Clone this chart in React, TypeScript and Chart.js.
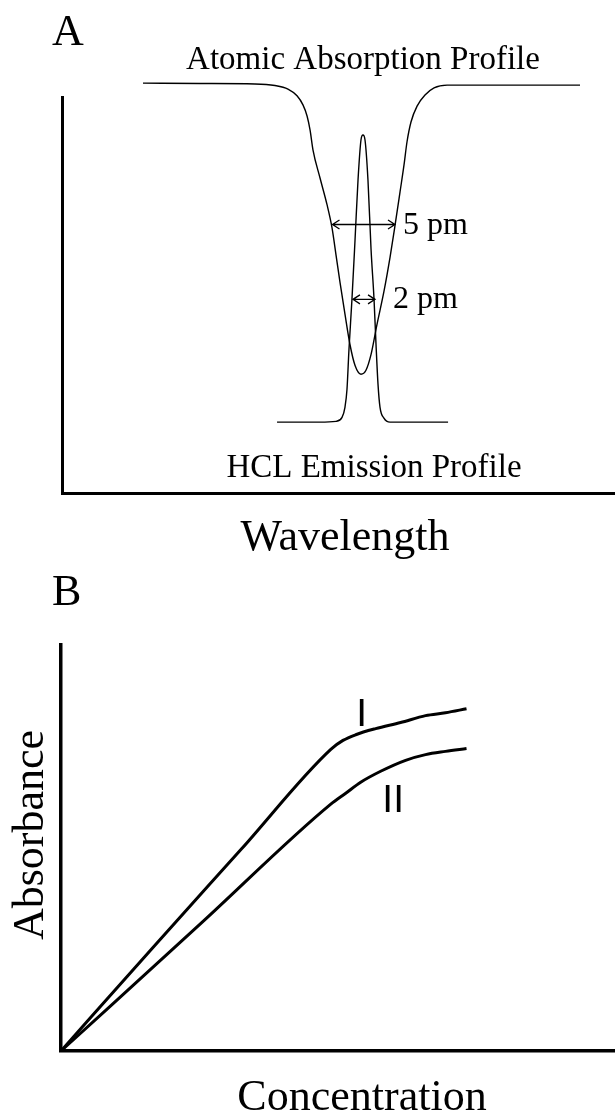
import React, { useEffect, useRef } from "react";
import { Chart, registerables } from "chart.js";

Chart.register(...registerables);

// ---------- Panel A : wavelength offset from line centre (pm) vs relative intensity ----------
const absorptionX = [-17.58, -12.98, -8.55, -6.94, -5.89, -5.16, -4.68, -4.35, -4.11, -3.87, -3.31, -2.74, -2.34, -2.02, -1.69, -1.29, -0.89, -0.48, 0, 0.40, 0.81, 1.29, 1.85, 2.34, 2.74, 3.15, 3.47, 3.71, 4.03, 4.52, 5.16, 5.89, 6.94, 12.82, 17.66];
const absorptionY = [103.5, 103.4, 103.3, 102.9, 102.0, 100.3, 98.0, 95.2, 91.7, 86.6, 79.6, 72.8, 67.0, 60.2, 53.1, 45.1, 37.5, 32.2, 30.0, 31.0, 35.0, 42.6, 50.9, 59.5, 67.5, 76.1, 82.9, 88.7, 93.7, 97.7, 100.5, 102.3, 103.0, 103.0, 103.0];

const emissionX = [-6.77, -3.31, -2.02, -1.53, -1.29, -1.13, -0.97, -0.73, -0.48, -0.24, 0, 0.16, 0.32, 0.56, 0.81, 1.05, 1.21, 1.37, 1.53, 1.85, 2.34, 4.76, 7.02];
const emissionY = [17.9, 17.9, 18.1, 19.1, 21.7, 26.2, 36.3, 48.9, 64.0, 79.1, 89.2, 90.4, 89.2, 79.1, 61.5, 48.9, 37.5, 27.5, 21.7, 18.9, 17.9, 17.9, 17.9];

// widths (pm) marked with double arrows: [start, end, height]
const absorptionWidthArrow = [-2.3, 2.74, 67.8];
const emissionWidthArrow = [-0.65, 1.13, 48.9];
const absorptionWidthLabel = "5 pm";
const emissionWidthLabel = "2 pm";

// ---------- Panel B : absorbance vs concentration ----------
const concI = [0, 1.64, 3.26, 4.87, 5.09, 5.32, 5.68, 6.13, 6.58, 6.94, 7.32];
const absI = [0, 0.252, 0.498, 0.743, 0.765, 0.779, 0.794, 0.809, 0.826, 0.833, 0.843];
const concII = [0, 2.54, 4.87, 5.14, 5.41, 5.77, 6.22, 6.58, 6.94, 7.32];
const absII = [0, 0.316, 0.608, 0.635, 0.662, 0.689, 0.716, 0.730, 0.738, 0.745];

const SERIF = '"Liberation Serif", "Times New Roman", serif';
const SANS = '"Liberation Sans", Arial, sans-serif';

function pts(xs: number[], ys: number[]) {
  return xs.map((x, i) => ({ x, y: ys[i] }));
}

function doubleArrow(ctx: CanvasRenderingContext2D, x1: number, x2: number, y: number) {
  const h = 7;
  const w = 4.5;
  ctx.beginPath();
  ctx.moveTo(x1, y);
  ctx.lineTo(x2, y);
  ctx.moveTo(x1 + h, y - w);
  ctx.lineTo(x1, y);
  ctx.lineTo(x1 + h, y + w);
  ctx.moveTo(x2 - h, y - w);
  ctx.lineTo(x2, y);
  ctx.lineTo(x2 - h, y + w);
  ctx.stroke();
}

const annotA = {
  id: "annotA",
  afterDatasetsDraw(chart: any) {
    const { ctx, scales } = chart;
    const xs = scales.x;
    const ys = scales.y;
    ctx.save();
    ctx.fillStyle = "#000";
    ctx.strokeStyle = "#000";
    ctx.lineWidth = 1.3;
    ctx.textBaseline = "alphabetic";

    ctx.font = `44px ${SERIF}`;
    ctx.textAlign = "left";
    ctx.fillText("A", 52, 45);

    ctx.font = `33px ${SERIF}`;
    ctx.textAlign = "center";
    ctx.fillText("Atomic Absorption Profile", 363, 69);
    ctx.fillText("HCL Emission Profile", 374, 477);

    ctx.font = `44px ${SERIF}`;
    ctx.fillText("Wavelength", 345, 550);

    // width arrows
    const a1 = xs.getPixelForValue(absorptionWidthArrow[0]);
    const a2 = xs.getPixelForValue(absorptionWidthArrow[1]);
    const ay = ys.getPixelForValue(absorptionWidthArrow[2]);
    doubleArrow(ctx, a1, a2, ay);
    const e1 = xs.getPixelForValue(emissionWidthArrow[0]);
    const e2 = xs.getPixelForValue(emissionWidthArrow[1]);
    const ey = ys.getPixelForValue(emissionWidthArrow[2]);
    doubleArrow(ctx, e1, e2, ey);

    ctx.font = `32px ${SERIF}`;
    ctx.textAlign = "left";
    ctx.fillText(absorptionWidthLabel, a2 + 8, ay + 9);
    ctx.fillText(emissionWidthLabel, e2 + 18, ey + 9);
    ctx.restore();
  },
};

const annotB = {
  id: "annotB",
  afterDatasetsDraw(chart: any) {
    const { ctx, scales } = chart;
    const xs = scales.x;
    const ys = scales.y;
    ctx.save();
    ctx.fillStyle = "#000";
    ctx.textBaseline = "alphabetic";

    ctx.font = `44px ${SERIF}`;
    ctx.textAlign = "left";
    ctx.fillText("B", 52, 45);

    ctx.textAlign = "center";
    ctx.fillText("Concentration", 362, 550);

    ctx.save();
    ctx.translate(43, 275);
    ctx.rotate(-Math.PI / 2);
    ctx.fillText("Absorbance", 0, 0);
    ctx.restore();

    // curve labels
    ctx.font = `39px ${SANS}`;
    ctx.textAlign = "left";
    ctx.fillText("I", xs.getPixelForValue(5.33), ys.getPixelForValue(0.80));
    ctx.fillText("II", xs.getPixelForValue(5.8), ys.getPixelForValue(0.589));
    ctx.restore();
  },
};

const axisOpts = (min: number, max: number, width: number) => ({
  type: "linear" as const,
  min,
  max,
  ticks: { display: false },
  grid: { display: false, drawTicks: false, tickLength: 0 },
  border: { display: true, width, color: "#000" },
});

export default function App() {
  const refA = useRef<HTMLCanvasElement>(null);
  const refB = useRef<HTMLCanvasElement>(null);

  useEffect(() => {
    const common = {
      responsive: false,
      animation: false as const,
      devicePixelRatio: 1,
      events: [] as any[],
      plugins: { legend: { display: false }, tooltip: { enabled: false }, title: { display: false } },
    };

    const chartA = new Chart(refA.current!, {
      type: "line",
      data: {
        datasets: [
          {
            label: "Atomic Absorption Profile",
            data: pts(absorptionX, absorptionY),
            borderColor: "#000",
            borderWidth: 1.4,
            pointRadius: 0,
            cubicInterpolationMode: "monotone",
            fill: false,
            clip: false as any,
          },
          {
            label: "HCL Emission Profile",
            data: pts(emissionX, emissionY),
            borderColor: "#000",
            borderWidth: 1.4,
            pointRadius: 0,
            cubicInterpolationMode: "monotone",
            fill: false,
            clip: false as any,
          },
        ],
      },
      options: {
        ...common,
        layout: { padding: { left: 62, top: 97, right: 0, bottom: 67 } },
        scales: {
          x: axisOpts(-24.11, 20.48, 3),
          y: axisOpts(0, 100, 3),
        },
      } as any,
      plugins: [annotA],
    });

    const chartB = new Chart(refB.current!, {
      type: "line",
      data: {
        datasets: [
          {
            label: "I",
            data: pts(concI, absI),
            borderColor: "#000",
            borderWidth: 3,
            pointRadius: 0,
            cubicInterpolationMode: "monotone",
            fill: false,
            clip: false as any,
          },
          {
            label: "II",
            data: pts(concII, absII),
            borderColor: "#000",
            borderWidth: 3,
            pointRadius: 0,
            cubicInterpolationMode: "monotone",
            fill: false,
            clip: false as any,
          },
        ],
      },
      options: {
        ...common,
        layout: { padding: { left: 61, top: 85, right: 0, bottom: 62 } },
        scales: {
          x: axisOpts(0, 10, 3.5),
          y: axisOpts(0, 1, 3.5),
        },
      } as any,
      plugins: [annotB],
    });

    return () => {
      chartA.destroy();
      chartB.destroy();
    };
  }, []);

  return (
    <div style={{ position: "absolute", left: 0, top: 0, width: 615, height: 1113, background: "#fff" }}>
      <canvas ref={refA} width={615} height={560} style={{ position: "absolute", left: 0, top: 0, display: "block" }} />
      <canvas ref={refB} width={615} height={553} style={{ position: "absolute", left: 0, top: 560, display: "block" }} />
    </div>
  );
}
